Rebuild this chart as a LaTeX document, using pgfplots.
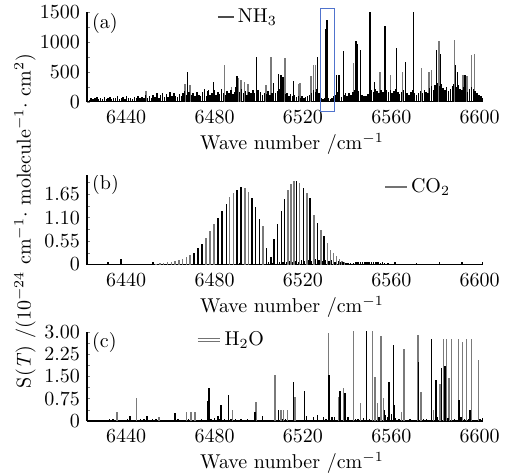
\documentclass[border=0pt]{standalone}
\usepackage{pgfplots}
\pgfplotsset{compat=1.18}
\definecolor{stickgray}{gray}{0.48}
\definecolor{boxblue}{RGB}{80,115,205}

\pgfplotsset{
  panel/.style={
    scale only axis, width=198pt,
    xmin=6422.3, xmax=6601.5, ymin=0,
    axis lines*=left, axis line style={line width=0.6pt},
    xtick={6440,6480,6520,6560,6600},
    xtick style={draw=none},
    tick align=inside,
    major tick length=1.6pt, minor tick length=1.6pt,
    /pgf/number format/1000 sep={},
    scaled ticks=false,
    xticklabel style={yshift=-1pt},
    xlabel={Wave number /cm$^{-1}$},
    xlabel style={xshift=3.5pt, yshift=2pt},
    legend style={draw=none, fill=none, anchor=west, inner sep=0pt,
      nodes={inner sep=1.5pt}},
  },
  stickb/.style={ycomb, mark=none, black, line width=0.72pt},
  stickg/.style={ycomb, mark=none, stickgray, line width=0.75pt},
}

\begin{document}
\begin{tikzpicture}
\path[use as bounding box] (0,0) rectangle (259pt,-236pt);

% (a) NH3
\begin{axis}[panel, at={(43.5pt,-50.85pt)}, anchor=south west,
  height=45pt, ymax=1500, clip=false,
  ytick={0,500,1000,1500}, minor ytick={250,750,1250},
  yticklabels={0,500,1000,1500},
  legend style={at={(0.327,0.941)}},
  legend image code/.code={\draw[black!70, line width=1pt] (0pt,0pt) -- (8pt,0pt);},
]
\addplot[stickg] coordinates {
(6449.0,180) (6466.7,290) (6469.0,280) (6484.5,610) (6487.8,250)
(6490.8,400) (6491.9,360) (6493.5,330) (6495.1,300) (6503.3,280)
(6505.5,750) (6511.9,735) (6517.9,300) (6518.7,320) (6523.7,430)
(6524.8,610) (6525.7,610) (6542.8,640) (6554.9,500) (6559.6,445)
(6565.0,500) (6573.7,555) (6577.1,500) (6578.3,530) (6581.6,1010)
(6588.5,1030) (6592.5,445) (6594.2,430) (6596.4,780) (6597.6,790)
};
\addlegendentry{NH$_3$}
\addplot[stickb, forget plot] coordinates {
(6467.8,490) (6479.5,330) (6475.4,220) (6477.4,200) (6490.1,430)
(6499.1,750) (6506.8,320) (6508.9,470) (6510.1,440) (6511.0,420)
(6515.7,345) (6526.7,750) (6530.3,1220) (6530.9,1360) (6535.3,445)
(6536.3,445) (6538.3,850) (6544.0,1010) (6544.8,970) (6546.1,870)
(6550.4,1500) (6552.3,330) (6557.1,1260) (6562.4,900) (6566.5,670)
(6570.0,1500) (6580.5,860) (6582.2,800) (6589.1,610) (6590.0,500)
(6593.3,445)
};
\addplot[stickb, forget plot] coordinates {
(6422.6,60) (6423.5,35) (6424.2,70) (6425.0,45) (6425.9,55) (6426.8,80)
(6427.6,40) (6428.5,65) (6429.3,50) (6430.1,75) (6431.0,45) (6431.8,60)
(6432.7,85) (6433.5,40) (6434.4,70) (6435.2,55) (6436.1,90) (6436.9,45)
(6437.8,65) (6438.6,75) (6439.5,50) (6440.3,95) (6441.2,60) (6442.0,70)
(6442.9,45) (6443.7,85) (6444.6,60) (6445.4,100) (6446.3,55) (6447.1,75)
(6448.0,65) (6448.8,110) (6449.7,70) (6450.5,95) (6451.4,60) (6452.2,120)
(6453.1,80) (6453.9,140) (6454.8,70) (6455.6,110) (6456.5,150) (6457.3,85)
(6458.2,130) (6459.0,75) (6459.9,160) (6460.7,90) (6461.6,145) (6462.4,100)
(6463.3,80) (6464.1,130) (6465.0,95) (6465.8,150) (6466.3,180) (6467.2,120)
(6468.4,160) (6469.5,110) (6470.3,140) (6471.2,100) (6472.0,155) (6472.9,120)
(6473.7,90) (6474.6,170) (6475.4,130) (6476.3,100) (6477.1,180) (6478.0,120)
(6478.8,150) (6479.9,200) (6480.6,110) (6481.5,165) (6482.3,130) (6483.2,220)
(6484.0,140) (6484.9,120) (6485.7,180) (6486.6,150) (6487.4,200) (6488.3,130)
(6489.1,170) (6489.6,250) (6490.5,190) (6491.4,160) (6492.3,210) (6493.1,140)
(6494.0,180) (6494.8,120) (6495.7,170) (6496.5,140) (6497.4,200) (6498.2,150)
(6499.6,190) (6500.0,120) (6500.9,160) (6501.7,110) (6502.6,150) (6503.4,130)
(6504.3,180) (6505.1,120) (6506.0,150) (6506.8,200) (6507.7,140) (6508.5,180)
(6509.4,210) (6510.2,160) (6511.1,190) (6512.0,130) (6512.8,150) (6513.7,100)
(6514.5,130) (6515.4,90) (6516.2,110) (6517.1,80) (6517.9,100) (6518.8,70)
(6519.6,90) (6520.5,60) (6521.3,75) (6522.2,90) (6523.0,110) (6523.9,150)
(6524.7,190) (6525.6,170) (6526.4,220) (6527.3,140) (6528.1,60) (6529.0,45)
(6529.8,70) (6531.5,55) (6532.4,40) (6533.2,60) (6534.1,90) (6534.9,120)
(6535.8,160) (6536.6,110) (6537.5,80) (6538.9,120) (6539.2,150) (6540.0,100)
(6540.9,140) (6541.7,110) (6542.6,160) (6543.4,200) (6544.3,250) (6545.1,180)
(6546.0,140) (6546.8,120) (6547.7,100) (6548.5,90) (6549.4,130) (6550.2,170)
(6551.1,200) (6551.9,160) (6552.8,220) (6553.6,180) (6554.5,150) (6555.3,200)
(6556.2,170) (6557.0,250) (6557.9,200) (6558.7,160) (6559.6,190) (6560.4,150)
(6561.3,180) (6562.1,220) (6563.0,160) (6563.8,130) (6564.7,170) (6565.5,200)
(6566.4,230) (6567.2,150) (6568.1,120) (6568.9,160) (6569.8,190) (6570.6,140)
(6571.5,110) (6572.3,150) (6573.2,180) (6574.0,140) (6574.9,200) (6575.7,170)
(6576.6,150) (6577.4,230) (6578.3,260) (6579.1,200) (6579.8,280) (6580.9,320)
(6581.7,260) (6582.6,300) (6583.4,230) (6584.3,200) (6585.1,250) (6586.0,180)
(6586.8,220) (6587.7,260) (6588.1,300) (6589.4,240) (6590.3,280) (6591.1,220)
(6592.0,190) (6592.8,250) (6593.7,200) (6594.5,170) (6595.4,210) (6596.2,250)
(6597.1,220) (6597.9,180) (6598.8,150) (6599.6,120) (6600.5,90) (6601.2,60)
};
\draw[boxblue, line width=0.6pt] (axis cs:6528.0,-165) rectangle (axis cs:6534.2,1560);
\node[anchor=west, inner sep=0pt] at (rel axis cs:0.012,0.874) {(a)};
\end{axis}

% (b) CO2
\begin{axis}[panel, at={(43.5pt,-132.25pt)}, anchor=south west,
  height=44.75pt, ymax=2.1,
  ytick={0,0.55,1.10,1.65}, minor ytick={0.275,0.825,1.375,1.925},
  yticklabels={0,0.55,1.10,1.65},
  legend style={at={(0.749,0.866)}},
  legend image code/.code={\draw[black!55, line width=1pt] (0pt,0pt) -- (11pt,0pt);},
]
\addplot[stickg] coordinates {
(6453.6,0.02) (6455.3,0.03) (6457.0,0.04) (6458.8,0.05) (6460.5,0.06)
(6462.2,0.08) (6463.9,0.10) (6465.6,0.12) (6467.3,0.17) (6469.0,0.22)
(6476.1,0.63) (6478.0,0.78) (6479.8,0.94) (6486.8,1.58) (6488.6,1.68)
(6493.7,1.80) (6495.4,1.71) (6501.9,0.90)
(6513.2,1.75) (6514.5,1.88) (6516.0,1.96) (6518.4,1.92) (6521.8,1.68)
(6525.1,1.17) (6528.1,0.82) (6531.1,0.51) (6532.6,0.34) (6533.8,0.27)
(6535.3,0.20) (6536.5,0.13) (6537.6,0.08) (6538.8,0.05)
};
\addlegendentry{CO$_2$}
\addplot[stickb, forget plot] coordinates {
(6470.8,0.28) (6472.6,0.38) (6474.3,0.49) (6481.5,1.10) (6483.3,1.25)
(6485.3,1.43) (6490.2,1.76) (6491.9,1.82) (6496.9,1.57) (6498.5,1.35)
(6500.3,1.07) (6503.5,0.39) (6505.6,0.18) (6507.0,0.59) (6508.6,0.94)
(6510.2,1.25) (6511.7,1.53) (6517.2,1.96) (6520.3,1.80) (6523.3,1.57)
(6526.6,0.98) (6529.6,0.67)
};
\addplot[stickb, forget plot] coordinates {
(6431.9,0.06) (6437.7,0.12) (6452.2,0.05) (6481.8,0.13) (6491.5,0.03)
(6504.5,0.05) (6506.2,0.04) (6509.5,0.05) (6511.0,0.06) (6512.5,0.07)
(6514.0,0.08) (6515.3,0.06) (6516.7,0.09) (6518.0,0.07) (6519.3,0.10)
(6520.8,0.08) (6522.5,0.11) (6524.0,0.09) (6525.8,0.12) (6527.3,0.10)
(6528.8,0.09) (6530.3,0.11) (6531.8,0.08) (6533.0,0.10) (6534.5,0.07)
(6536.0,0.09) (6537.0,0.06) (6538.2,0.05) (6539.5,0.04) (6540.5,0.03)
(6541.5,0.03) (6543.0,0.04) (6544.0,0.06) (6545.0,0.05) (6546.0,0.07)
(6547.0,0.06) (6548.0,0.07) (6549.0,0.06) (6550.0,0.07) (6551.0,0.06)
(6552.0,0.07) (6553.0,0.05) (6554.0,0.06) (6555.0,0.04) (6556.0,0.05)
(6557.0,0.03) (6558.5,0.03) (6561.7,0.07) (6571.5,0.04) (6581.8,0.07)
(6591.9,0.05) (6601.2,0.07)
};
\node[anchor=west, inner sep=0pt] at (rel axis cs:0.012,0.89) {(b)};
\end{axis}

% (c) H2O
\begin{axis}[panel, at={(43.5pt,-210.5pt)}, anchor=south west,
  height=44.65pt, ymax=3.0,
  ytick={0,0.75,1.50,2.25,3.00}, minor ytick={0.375,1.125,1.875,2.625},
  yticklabels={0,0.75,1.50,2.25,3.00},
  legend style={at={(0.273,0.907)}},
  legend image code/.code={\draw[black!55, line width=0.45pt, double=white, double distance=1.1pt] (0pt,0pt) -- (11pt,0pt);},
]
\addplot[stickg] coordinates {
(6435.8,0.29) (6444.8,0.78) (6454.9,0.12) (6467.4,0.31) (6469.4,0.29)
(6471.2,0.29) (6488.1,0.37) (6498.8,0.63) (6507.4,1.54) (6510.1,0.37)
(6511.3,0.37) (6513.1,0.37) (6516.4,0.82) (6531.6,2.94) (6536.0,0.82)
(6538.3,1.10) (6542.8,3.5) (6546.1,0.59) (6551.4,3.5) (6552.6,1.49)
(6553.8,0.59) (6555.3,2.86) (6556.5,0.78) (6564.7,0.29) (6565.7,2.42)
(6572.0,2.89) (6573.4,0.96) (6579.0,0.37) (6582.0,1.26) (6583.7,2.75)
(6585.0,2.75) (6586.1,1.43) (6587.3,2.75) (6590.4,2.75) (6592.3,2.66)
(6594.1,2.75) (6596.4,2.75) (6599.4,2.05)
};
\addlegendentry{H$_2$O}
\addplot[stickb, forget plot] coordinates {
(6441.8,0.18) (6449.4,0.17) (6462.2,0.26) (6476.9,0.67) (6477.6,1.12)
(6481.5,0.18) (6483.0,0.54) (6486.3,0.87) (6498.4,0.29) (6501.8,0.18)
(6508.9,0.37) (6515.7,1.30) (6520.6,1.01) (6526.5,0.20) (6531.8,1.54)
(6536.8,1.01) (6539.0,0.93) (6548.9,3.5) (6556.9,0.37) (6559.0,1.30)
(6560.9,2.55) (6561.4,0.54) (6572.2,1.97) (6578.3,2.75) (6580.2,1.38)
(6582.8,1.77) (6584.3,1.86) (6590.6,0.70) (6595.6,0.37)
};
\addplot[stickb, forget plot] coordinates {
(6423.0,0.04) (6425.5,0.03) (6427.8,0.05) (6430.0,0.03) (6432.5,0.06)
(6434.0,0.08) (6436.5,0.05) (6438.5,0.04) (6440.5,0.07) (6443.0,0.05)
(6446.5,0.06) (6448.0,0.08) (6450.5,0.05) (6452.0,0.07) (6453.5,0.06)
(6456.5,0.04) (6458.0,0.05) (6460.0,0.03) (6463.5,0.06) (6465.0,0.04)
(6466.5,0.05) (6468.2,0.06) (6470.2,0.04) (6472.5,0.05) (6474.0,0.07)
(6475.5,0.05) (6478.5,0.08) (6480.0,0.10) (6482.2,0.06) (6484.5,0.07)
(6485.5,0.05) (6487.5,0.06) (6489.5,0.08) (6490.5,0.05) (6492.0,0.07)
(6493.5,0.04) (6495.0,0.06) (6496.5,0.05) (6500.0,0.04) (6503.5,0.05)
(6505.0,0.03) (6510.7,0.06) (6512.0,0.08) (6514.5,0.04) (6517.8,0.05)
(6519.0,0.03) (6521.7,0.18) (6523.0,0.05) (6524.7,0.12) (6527.8,0.05)
(6529.2,0.12) (6530.5,0.06) (6533.2,0.15) (6534.2,0.12) (6537.3,0.05)
(6540.5,0.12) (6543.8,0.08) (6545.0,0.06) (6547.5,0.10) (6550.2,0.08)
(6554.5,0.12) (6557.5,0.20) (6558.2,0.15) (6560.0,0.25) (6562.0,0.10)
(6563.5,0.06) (6567.3,0.05) (6568.5,0.07) (6570.5,0.05) (6574.5,0.06)
(6576.0,0.08) (6577.2,0.04) (6581.0,0.12) (6585.6,0.10) (6588.5,0.08)
(6589.3,0.05) (6591.5,0.12) (6593.0,0.06) (6595.0,0.08) (6597.5,0.05)
(6598.5,0.04) (6600.2,0.06) (6601.3,0.10)
};
\node[anchor=west, inner sep=0pt] at (rel axis cs:0.012,0.88) {(c)};
\end{axis}

\node[rotate=90] at (12.5pt,-110.5pt)
  {S(\textit{T}) /(10$^{-24}$ cm$^{-1}\cdot$ molecule$^{-1}\cdot$ cm$^{2}$)};
\end{tikzpicture}
\end{document}
